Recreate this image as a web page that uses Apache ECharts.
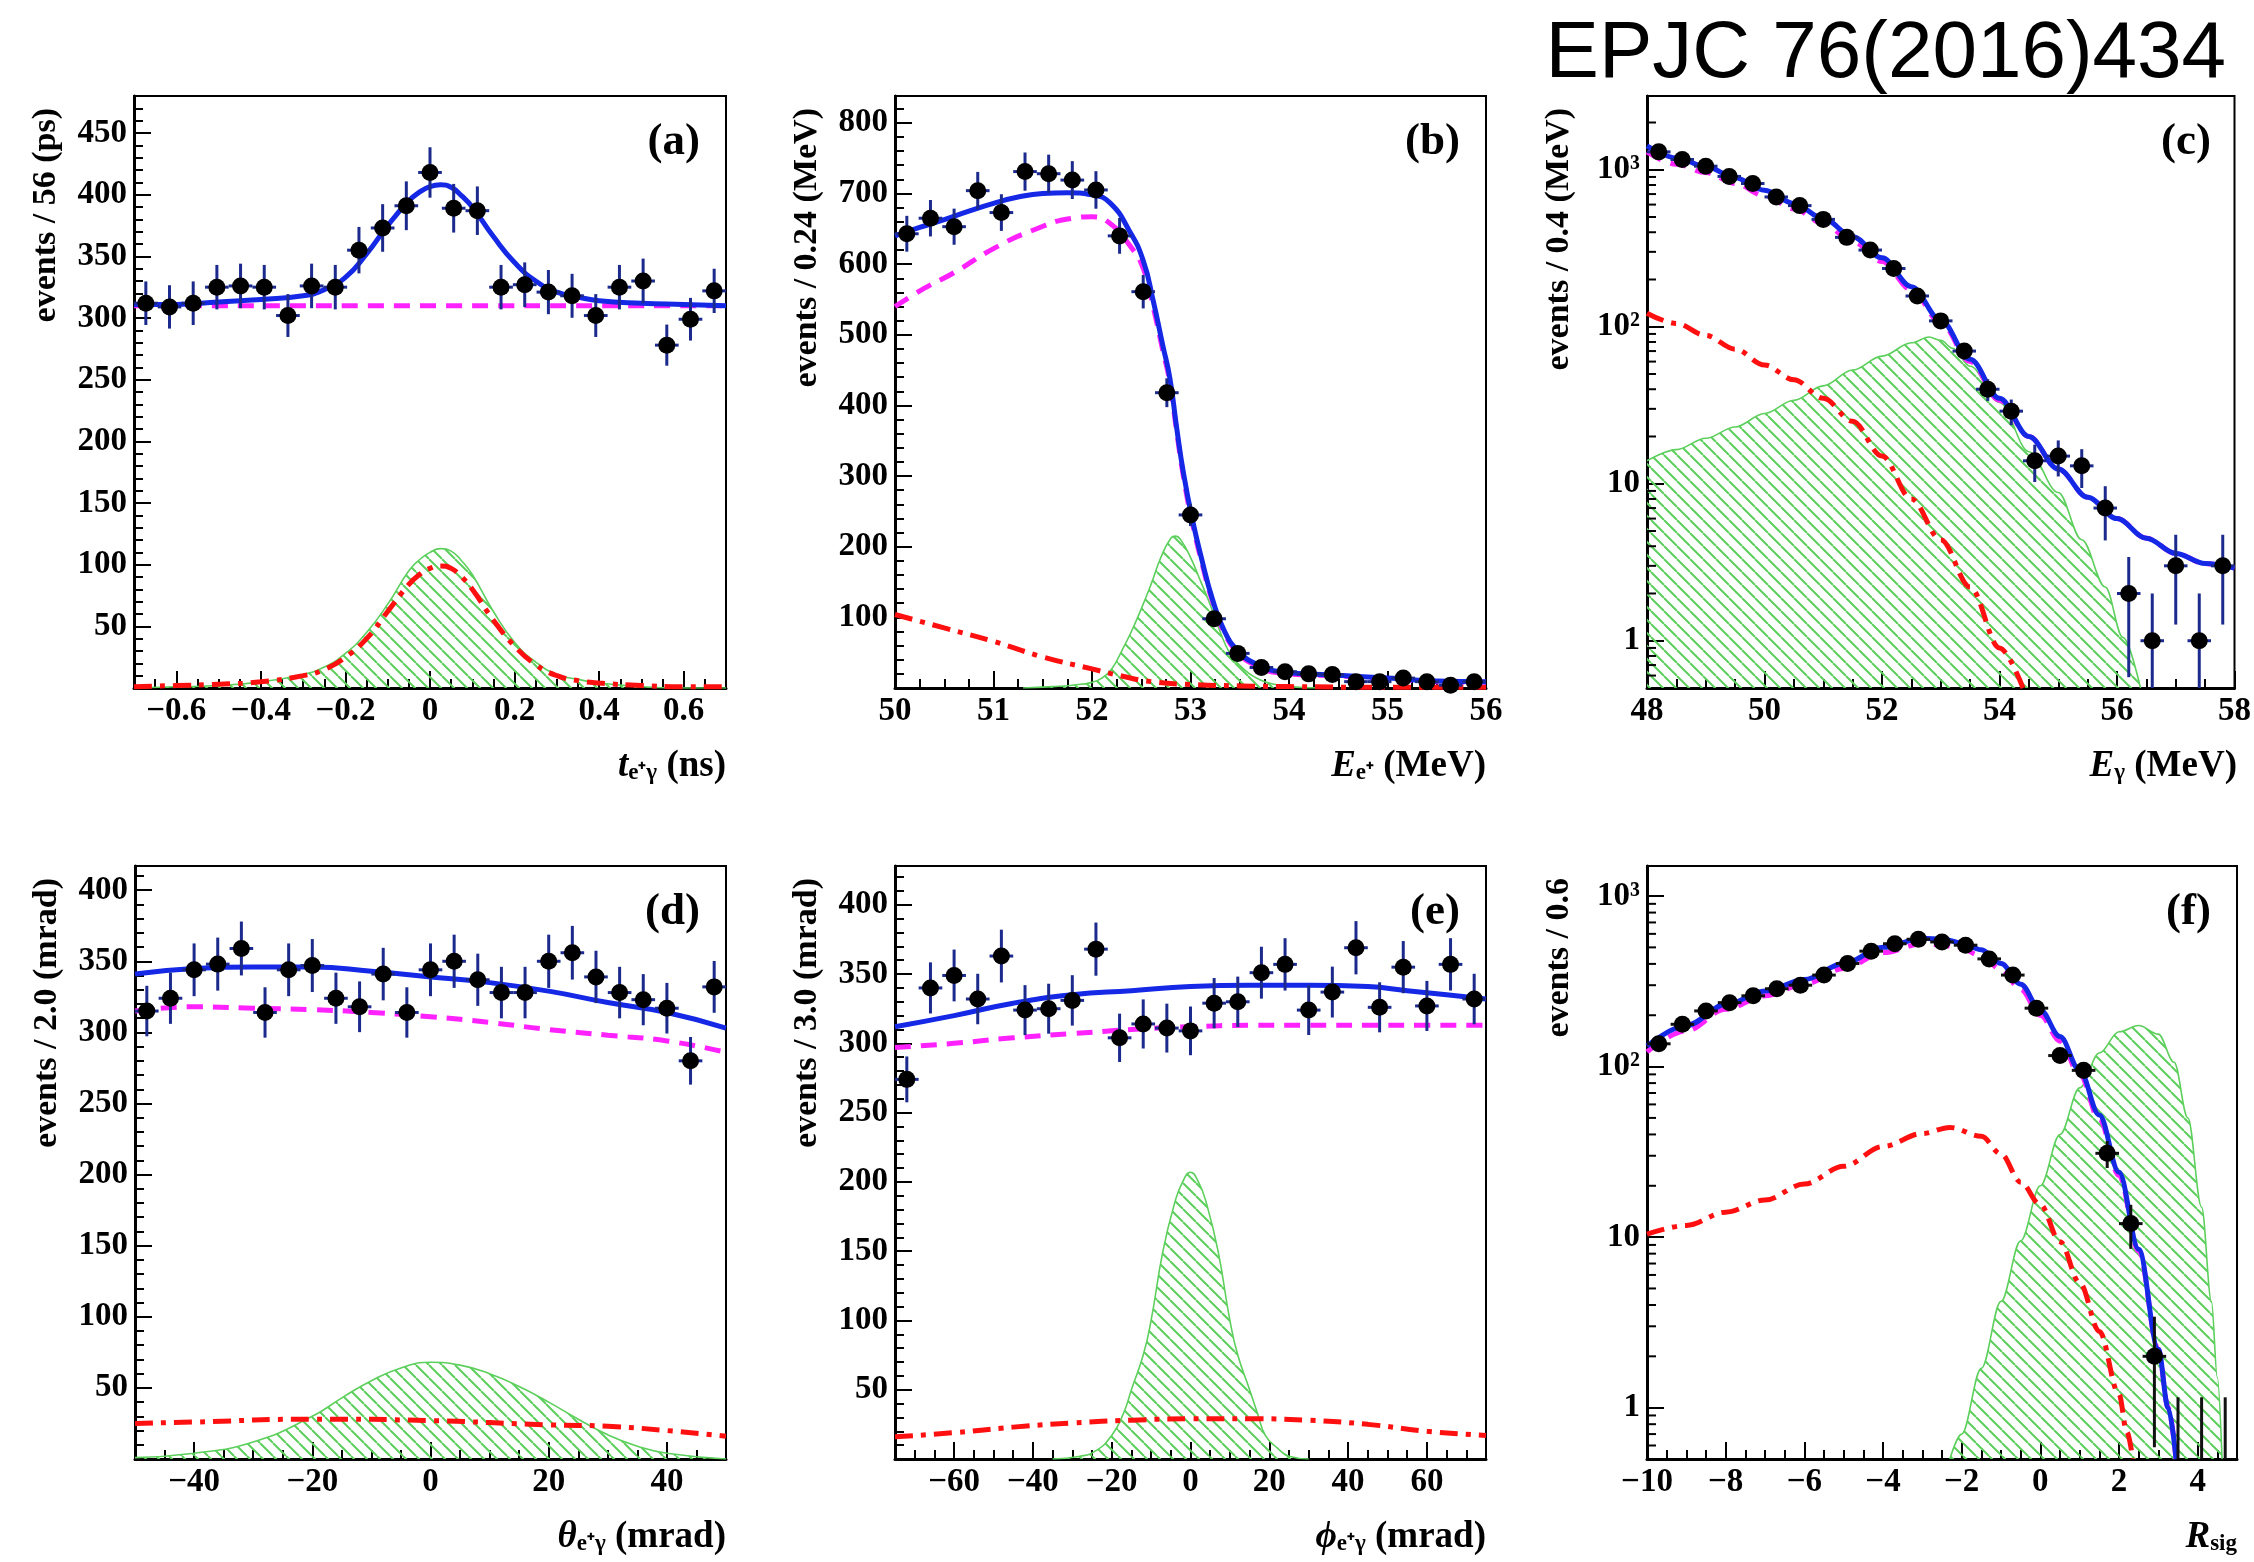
<!DOCTYPE html>
<html><head><meta charset="utf-8">
<script src="https://cdn.jsdelivr.net/npm/echarts@6/dist/echarts.min.js"></script>
<style>html,body{margin:0;padding:0;background:#fff}#c{width:2254px;height:1562px}</style>
</head><body><div id="c"></div>
<script>
// ---------------- DATA ----------------
const aBins = [-0.672,-0.616,-0.56,-0.504,-0.448,-0.392,-0.336,-0.28,-0.224,-0.168,-0.112,-0.056,0,0.056,0.112,0.168,0.224,0.28,0.336,0.392,0.448,0.504,0.56,0.616,0.672];
const aCounts = [312,309,312,325,326,325,302,326,325,355,373,391,418,389,387,325,327,321,318,302,325,330,278,299,322];
const aBlue = [[-0.7,311],[-0.6,311],[-0.5,313],[-0.4,315],[-0.3,318],[-0.25,323],[-0.2,333],[-0.15,352],[-0.1,375],[-0.05,395],[-0.025,402],[0,406.5],[0.025,408],[0.05,406],[0.075,399],[0.1,390],[0.15,366],[0.2,345],[0.25,330],[0.3,321],[0.35,317],[0.4,314],[0.5,312],[0.6,311],[0.7,310]];
const aMagenta = [[-0.7,310],[0,310],[0.7,310]];
const aRed = [[-0.7,1],[-0.6,2],[-0.5,3],[-0.4,5],[-0.3,10],[-0.25,15],[-0.2,25],[-0.15,40],[-0.1,62],[-0.05,84],[-0.025,92],[0,97],[0.025,99],[0.05,97],[0.075,90],[0.1,80],[0.15,55],[0.2,34],[0.25,19],[0.3,10],[0.35,6],[0.4,4],[0.5,2],[0.6,1],[0.7,1]];
const aGreen = [[-0.7,0],[-0.6,1],[-0.5,2],[-0.4,5],[-0.3,11],[-0.25,17],[-0.2,28],[-0.15,45],[-0.1,68],[-0.05,95],[-0.025,104],[0,110],[0.025,113],[0.05,111],[0.075,103],[0.1,92],[0.15,62],[0.2,37],[0.25,21],[0.3,11],[0.35,7],[0.4,4],[0.5,1],[0.6,0],[0.7,0]];

const bBins = [50.12,50.36,50.6,50.84,51.08,51.32,51.56,51.8,52.04,52.28,52.52,52.76,53,53.24,53.48,53.72,53.96,54.2,54.44,54.68,54.92,55.16,55.4,55.64,55.88];
const bCounts = [643,665,653,704,673,731,728,719,705,640,561,418,245,98,49,29,23,20,19,9,9,14,9,4,9];
const bBlue = [[50,640],[50.25,652],[50.5,663],[50.75,675],[51,686],[51.25,695],[51.5,700],[51.75,701],[52,698],[52.18,687],[52.38,647],[52.52,605],[52.62,549],[52.72,484],[52.79,439],[52.86,368],[52.93,303],[53.02,238],[53.12,179],[53.22,127],[53.34,82],[53.48,53],[53.68,33],[53.92,23],[54.5,18],[55,14],[55.5,10],[56,9]];
const bMagenta = [[50,540],[50.3,566],[50.6,588],[51,622],[51.4,648],[51.8,665],[52,667],[52.18,658],[52.38,627],[52.52,594],[52.62,540],[52.72,477],[52.79,433],[52.86,363],[52.93,298],[53.02,233],[53.12,175],[53.22,124],[53.34,79],[53.48,50],[53.68,31],[53.92,21],[54.5,17],[55,13],[55.5,9],[56,8]];
const bRed = [[50,104],[50.5,85],[51,66],[51.5,44],[52,27],[52.3,17],[52.6,9],[53,5],[53.5,3],[54,2],[55,1],[56,1]];
const bGreen = [[51.3,0],[51.6,2],[51.8,4],[52,8],[52.1,14],[52.2,27],[52.3,52],[52.4,80],[52.5,112],[52.6,147],[52.7,185],[52.8,212],[52.85,215],[52.9,210],[53,185],[53.1,152],[53.2,118],[53.3,80],[53.4,49],[53.5,32],[53.6,20],[53.7,12],[53.8,7],[54,2],[54.3,0]];

const cBins = [48.2,48.6,49,49.4,49.8,50.2,50.6,51,51.4,51.8,52.2,52.6,53,53.4,53.8,54.2,54.6,55,55.4,55.8,56.2,56.6,57,57.4,57.8];
const cCounts = [1300,1162,1054,907,817,671,591,483,371,308,235,157,109,70,40,29,14,15,13,7,2,1,3,1,3];
const cBlue = [[48,1420],[48.5,1190],[49,1050],[49.5,890],[50,740],[50.5,610],[51,490],[51.5,375],[52,275],[52.5,180],[53,110],[53.5,62],[54,35],[54.5,20],[55,12.4],[55.5,8.2],[56,6],[56.5,4.5],[57,3.6],[57.5,3.1],[58,2.9]];
const cMagenta = [[48,1298],[48.5,1085],[49,962],[49.5,818],[50,683],[50.5,564],[51,455],[51.5,350],[52,260],[52.5,172],[53,106],[53.5,60],[54,34],[54.5,20],[55,12.4],[55.5,8.2],[56,6],[56.5,4.5],[57,3.6],[57.5,3.1],[58,2.9]];
const cRed = [[48,122],[48.5,105],[49,88],[49.5,72],[50,57],[50.5,46],[51,35],[51.5,25],[52,15],[52.5,8],[53,4.4],[53.5,2.2],[54,0.9],[54.4,0.5]];
const cGreen = [[48,14],[48.5,16.5],[49,19.5],[49.5,23],[50,28],[50.5,34],[51,42],[51.5,53],[52,65],[52.5,79],[52.8,86],[53,82],[53.2,73],[53.5,56],[54,33],[54.5,16],[55,8.8],[55.4,4.4],[55.8,2.2],[56.1,1.05],[56.4,0.5]];

const dBins = [-48,-44,-40,-36,-32,-28,-24,-20,-16,-12,-8,-4,0,4,8,12,16,20,24,28,32,36,40,44,48];
const dCounts = [315,324,344,348,359,314,344,347,324,318,341,314,344,350,337,328,328,350,356,339,328,323,317,280,332];
const dBlue = [[-50,341],[-40,345],[-30,346],[-20,346],[-10,343],[0,339],[10,335],[20,329],[30,321],[40,314],[50,303]];
const dMagenta = [[-50,315],[-40,318],[-30,317],[-20,316],[-10,314],[0,311],[10,307],[20,302],[30,298],[40,294],[50,286]];
const dRed = [[-50,25],[-40,26],[-20,28],[0,27],[20,24],[30,23],[40,20],[50,16]];
const dGreen = [[-50,1],[-40,4],[-30,12],[-20,30],[-15,43],[-10,55],[-5,64],[0,68],[5,66],[10,60],[15,51],[20,40],[25,28],[30,17],[35,9],[40,4],[50,0]];

const eBins = [-72,-66,-60,-54,-48,-42,-36,-30,-24,-18,-12,-6,0,6,12,18,24,30,36,42,48,54,60,66,72];
const eCounts = [274,340,349,332,363,324,325,331,368,304,314,311,309,329,330,351,357,324,337,369,326,355,327,357,332];
const eBlue = [[-75,312],[-60,320],[-45,329],[-30,335],[-15,338],[0,341],[15,342],[30,342],[45,341],[55,338],[65,335],[75,332]];
const eMagenta = [[-75,297],[-60,300],[-45,304],[-30,307],[-15,310],[0,312],[15,313],[30,313],[45,313],[60,313],[75,313]];
const eRed = [[-75,16],[-60,19],[-45,23],[-30,26],[-15,28],[0,29],[15,29],[30,28],[45,25],[60,20],[75,17]];
const eGreen = [[-35,0],[-28,2],[-24,6],[-20,17],[-17,33],[-15,50],[-12,75],[-10,100],[-7,150],[-4,185],[-2,200],[0,207],[2,200],[4,185],[7,150],[10,100],[12,75],[15,50],[17,33],[19,17],[22,8],[25,2],[30,0]];

const fBins = [-9.7,-9.1,-8.5,-7.9,-7.3,-6.7,-6.1,-5.5,-4.9,-4.3,-3.7,-3.1,-2.5,-1.9,-1.3,-0.7,-0.1,0.5,1.1,1.7,2.3,2.9,3.5,4.1,4.7];
const fCounts = [136,177,212,237,260,286,300,344,402,475,525,558,538,515,428,344,220,116,95,31,12,2,0,0,0];
const fBlue = [[-10,132],[-9,174],[-8,231],[-7,277],[-6,324],[-5,402],[-4,500],[-3,565],[-2.5,560],[-2,531],[-1.5,484],[-1,402],[-0.5,304],[0,215],[0.5,150],[1,95],[1.5,52],[2,24],[2.5,8.5],[3,2.2],[3.25,1],[3.45,0.5]];
const fMagenta = [[-10,122],[-9,162],[-8,217],[-7,260],[-6,304],[-5,376],[-4,466],[-3,525],[-2.5,517],[-2,490],[-1.5,445],[-1,371],[-0.5,283],[0,200],[0.5,141],[1,90],[1.5,49],[2,23],[2.5,8.3],[3,2.2],[3.25,1],[3.45,0.5]];
const fRed = [[-10,10.4],[-9,11.7],[-8,14],[-7,16.5],[-6,20.5],[-5,26],[-4,34],[-3,40.5],[-2.3,44],[-1.5,39],[-1,30.7],[-0.5,21],[0,15.5],[0.5,9.4],[1,5.4],[1.5,2.8],[2,1.2],[2.2,0.72],[2.35,0.5]];
const fGreen = [[-2.3,0.5],[-2,0.7],[-1.5,1.7],[-1,4.2],[-0.5,9.5],[0,20],[0.5,40],[1,75],[1.5,120],[2,160],[2.5,174],[3,155],[3.4,106],[3.75,50],[4.1,15],[4.35,4.2],[4.5,1.5],[4.62,0.5]];

const logMinorTicks = [0.6,0.7,0.8,0.9,2,3,4,5,6,7,8,9,20,30,40,50,60,70,80,90,200,300,400,500,600,700,800,900,2000];
const logTickLabels = {'0':'1','1':'10','2':'10\u00b2','3':'10\u00b3'};
const panelLetters = ['(a)','(b)','(c)','(d)','(e)','(f)'];
const yTitles = ['events / 56 (ps)','events / 0.24 (MeV)','events / 0.4 (MeV)','events / 2.0 (mrad)','events / 3.0 (mrad)','events / 0.6'];
const xTitles = [
  '{i|t}{s|e\u207a\u03b3}{n| (ns)}',
  '{i|E}{s|e\u207a}{n| (MeV)}',
  '{i|E}{s|\u03b3}{n| (MeV)}',
  '{i|\u03b8}{s|e\u207a\u03b3}{n| (mrad)}',
  '{i|\u03d5}{s|e\u207a\u03b3}{n| (mrad)}',
  '{i|R}{s|sig}'
];

// ---------------- STYLE / LAYOUT ----------------
const SERIF = '"Liberation Serif","Times New Roman",serif';
const BLUE = '#1428e6', MAG = '#ff22ff', RED = '#ff1010', GRN = '#5ccf5c', ERR = '#1b2a8c';
const L = [
  {left:134, top:96, width:592, height:592},
  {left:895, top:96, width:591, height:592},
  {left:1647, top:96, width:590, height:592},
  {left:135, top:866, width:591, height:593},
  {left:895, top:866, width:591, height:593},
  {left:1647, top:866, width:590, height:593}
];
const P = [
  {bins:aBins, n:aCounts, blue:aBlue, mag:aMagenta, red:aRed, grn:aGreen, hw:0.028, x:{min:-0.7,max:0.7,splitNumber:7,dec:1,showMin:false,showMax:false}, y:{min:0,max:480,interval:50}, err:ERR},
  {bins:bBins, n:bCounts, blue:bBlue, mag:bMagenta, red:bRed, grn:bGreen, hw:0.12, x:{min:50,max:56,interval:1,dec:0,showMin:true,showMax:true}, y:{min:0,max:838,interval:100}, err:ERR},
  {bins:cBins, n:cCounts, blue:cBlue, mag:cMagenta, red:cRed, grn:cGreen, hw:0.2, x:{min:48,max:58,interval:2,dec:0,showMin:true,showMax:true}, y:{log:true,min:0.5,max:2950}, err:ERR},
  {bins:dBins, n:dCounts, blue:dBlue, mag:dMagenta, red:dRed, grn:dGreen, hw:2, x:{min:-50,max:50,splitNumber:5,dec:0,showMin:false,showMax:false}, y:{min:0,max:417,interval:50}, err:ERR},
  {bins:eBins, n:eCounts, blue:eBlue, mag:eMagenta, red:eRed, grn:eGreen, hw:3, x:{min:-75,max:75,splitNumber:7,dec:0,showMin:false,showMax:false}, y:{min:0,max:428,interval:50}, err:ERR},
  {bins:fBins, n:fCounts, blue:fBlue, mag:fMagenta, red:fRed, grn:fGreen, hw:0.3, x:{min:-10,max:5,interval:2,dec:0,showMin:true,showMax:false}, y:{log:true,min:0.5,max:1500}, err:'#111'}
];

function hatchCanvas() {
  const s = 13, c = document.createElement('canvas');
  c.width = s; c.height = s;
  const g = c.getContext('2d');
  g.strokeStyle = GRN; g.lineWidth = 2;
  g.beginPath();
  for (const o of [-s, 0, s]) { g.moveTo(o, 0); g.lineTo(o + s, s); }
  g.stroke();
  return c;
}
const HATCH = hatchCanvas();

function fmtX(dec) {
  return v => {
    if (Math.abs(v) < 1e-9) return '0';
    const s = Math.abs(v).toFixed(dec);
    return (v < 0 ? '\u2212' : '') + s;
  };
}
function fmtLog(v) {
  const l = Math.log10(v), r = Math.round(l);
  if (Math.abs(l - r) > 1e-6) return '';
  return logTickLabels[String(r)] || '';
}
const labelStyle = {fontFamily: SERIF, fontWeight: 'bold', fontSize: 33, color: '#000'};
const tickStyle = {color: '#000', width: 2};

function makeErr(color, hw, ymin) {
  return function (params, api) {
    const x = api.value(0), y = api.value(1);
    const lo = Math.max(api.value(2), ymin), hi = api.value(3);
    const a = api.coord([x, lo]), b = api.coord([x, hi]);
    const ch = [{type: 'line', shape: {x1: a[0], y1: a[1], x2: b[0], y2: b[1]}, style: {stroke: color, lineWidth: 3}}];
    if (y > 0) {
      const l = api.coord([x - hw, y]), r = api.coord([x + hw, y]);
      ch.push({type: 'line', shape: {x1: l[0], y1: l[1], x2: r[0], y2: r[1]}, style: {stroke: color, lineWidth: 3}});
    }
    return {type: 'group', children: ch};
  };
}

const grid = [], xAxis = [], yAxis = [], series = [], graphic = [];
P.forEach((p, i) => {
  const g = L[i];
  const sm = p.y.log ? {smooth: 0.35, smoothMonotone: 'x'} : {smooth: 0.5};
  grid.push({left: g.left, top: g.top, width: g.width, height: g.height, show: true, borderColor: '#000', borderWidth: 2, containLabel: false});
  const xa = {gridIndex: i, type: 'value', min: p.x.min, max: p.x.max,
    axisLine: {show: true, onZero: false, lineStyle: {color: '#000', width: 3}},
    axisTick: {show: true, inside: true, length: 17, lineStyle: tickStyle},
    minorTick: {show: true, splitNumber: 4, length: 9, lineStyle: tickStyle},
    splitLine: {show: false}, minorSplitLine: {show: false},
    axisLabel: Object.assign({margin: 7, formatter: fmtX(p.x.dec), showMinLabel: p.x.showMin, showMaxLabel: p.x.showMax}, labelStyle)};
  if (p.x.interval) xa.interval = p.x.interval; else xa.splitNumber = p.x.splitNumber;
  xAxis.push(xa);
  let ya;
  if (p.y.log) {
    ya = {gridIndex: i, type: 'log', logBase: 10, min: p.y.min, max: p.y.max,
      axisLine: {show: true, onZero: false, lineStyle: {color: '#000', width: 3}},
      axisTick: {show: true, inside: true, length: 17, lineStyle: tickStyle},
      splitLine: {show: false},
      axisLabel: Object.assign({margin: 7, formatter: fmtLog, showMinLabel: false, showMaxLabel: false}, labelStyle)};
  } else {
    ya = {gridIndex: i, type: 'value', min: p.y.min, max: p.y.max, interval: p.y.interval,
      axisLine: {show: true, onZero: false, lineStyle: {color: '#000', width: 3}},
      axisTick: {show: true, inside: true, length: 17, lineStyle: tickStyle},
      minorTick: {show: true, splitNumber: 5, length: 9, lineStyle: tickStyle},
      splitLine: {show: false}, minorSplitLine: {show: false},
      axisLabel: Object.assign({margin: 7, showMinLabel: false, showMaxLabel: false}, labelStyle)};
  }
  yAxis.push(ya);
  const ymin = p.y.log ? p.y.min : 0;
  series.push(Object.assign({type: 'line', xAxisIndex: i, yAxisIndex: i, data: p.grn, symbol: 'none', silent: true,
    lineStyle: {color: GRN, width: 1.6}, areaStyle: {color: {image: HATCH, repeat: 'repeat'}, opacity: 1, origin: 'start'}, z: 2}, sm));
  series.push(Object.assign({type: 'line', xAxisIndex: i, yAxisIndex: i, data: p.red, symbol: 'none', silent: true,
    lineStyle: {color: RED, width: 5, type: [18, 8, 5, 8]}, z: 3}, sm));
  series.push(Object.assign({type: 'line', xAxisIndex: i, yAxisIndex: i, data: p.mag, symbol: 'none', silent: true,
    lineStyle: {color: MAG, width: 5, type: [16, 10]}, z: 3}, sm));
  series.push(Object.assign({type: 'line', xAxisIndex: i, yAxisIndex: i, data: p.blue, symbol: 'none', silent: true,
    lineStyle: {color: BLUE, width: 5}, z: 4}, sm));
  const errData = p.n.map((v, k) => [p.bins[k], v, v > 0 ? v - Math.sqrt(v) : 0, v > 0 ? v + Math.sqrt(v) : 1.15]);
  series.push({type: 'custom', xAxisIndex: i, yAxisIndex: i, data: errData, encode: {x: 0, y: 1}, clip: true, silent: true,
    renderItem: makeErr(p.err, p.hw, ymin), z: 5});
  series.push({type: 'scatter', xAxisIndex: i, yAxisIndex: i, data: p.n.map((v, k) => [p.bins[k], v]).filter(d => d[1] > 0),
    symbol: 'circle', symbolSize: 17, itemStyle: {color: '#000', opacity: 1}, silent: true, z: 6});
  if (p.y.log) {
    const xm = p.x.min;
    series.push({type: 'custom', xAxisIndex: i, yAxisIndex: i, data: logMinorTicks.filter(v => v > p.y.min && v < p.y.max).map(v => [xm, v]),
      encode: {x: 0, y: 1}, silent: true, z: 7,
      renderItem: (params, api) => {
        const pt = api.coord([api.value(0), api.value(1)]);
        return {type: 'line', shape: {x1: pt[0], y1: pt[1], x2: pt[0] + 9, y2: pt[1]}, style: {stroke: '#000', lineWidth: 2}};
      }});
  }
  graphic.push({type: 'text', x: g.left + g.width - 26, y: g.top + 24, z: 100,
    style: {text: panelLetters[i], font: 'bold 45px ' + SERIF, fill: '#000', align: 'right', verticalAlign: 'top', textAlign: 'right', textVerticalAlign: 'top'}});
  graphic.push({type: 'text', x: g.left - 88, y: g.top + 12, rotation: Math.PI / 2, z: 100,
    style: {text: yTitles[i], font: 'bold 34px ' + SERIF, fill: '#000', align: 'right', verticalAlign: 'middle', textAlign: 'right', textVerticalAlign: 'middle'}});
  graphic.push({type: 'text', x: g.left + g.width, y: g.top + g.height + 78, z: 100,
    style: {text: xTitles[i], fill: '#000', align: 'right', verticalAlign: 'middle', textAlign: 'right', textVerticalAlign: 'middle',
      rich: {
        i: {fontFamily: SERIF, fontWeight: 'bold', fontStyle: 'italic', fontSize: 37, lineHeight: 37, verticalAlign: 'top'},
        n: {fontFamily: SERIF, fontWeight: 'bold', fontSize: 37, lineHeight: 37, verticalAlign: 'top'},
        s: {fontFamily: SERIF, fontWeight: 'bold', fontSize: 23, lineHeight: 23, verticalAlign: 'bottom', padding: [21, 0, 0, 0]}
      }}});
});
graphic.push({type: 'text', x: 2226, y: 55, z: 100,
  style: {text: 'EPJC 76(2016)434', font: '80px "Liberation Sans", Arial, sans-serif', fill: '#000', align: 'right', verticalAlign: 'middle', textAlign: 'right', textVerticalAlign: 'middle'}});

const chart = echarts.init(document.getElementById('c'), null, {renderer: 'canvas', width: 2254, height: 1562});
chart.setOption({animation: false, backgroundColor: '#fff', grid, xAxis, yAxis, series, graphic});
</script></body></html>
